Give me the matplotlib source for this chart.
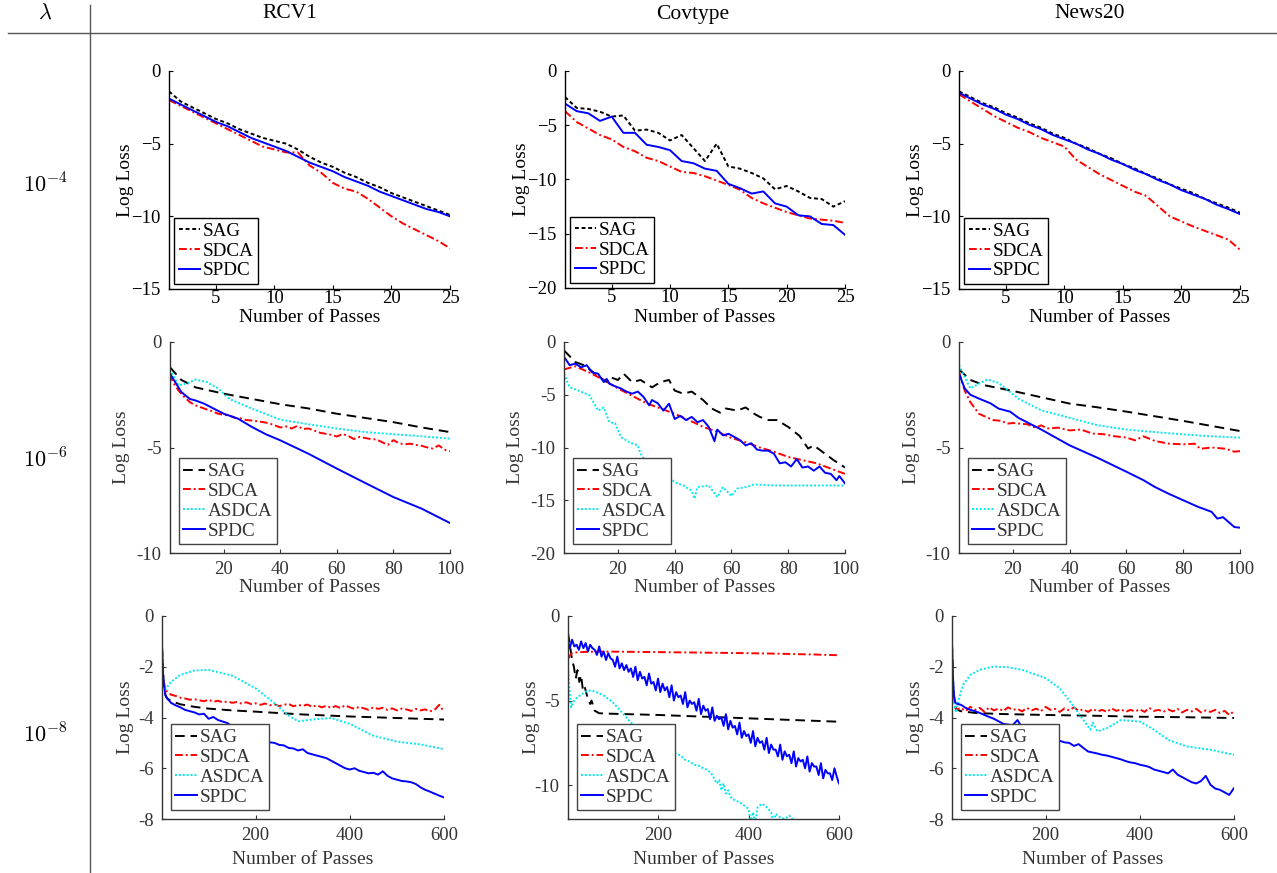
import numpy as np
import matplotlib
matplotlib.use("Agg")
import matplotlib.pyplot as plt
from matplotlib.lines import Line2D

plt.rcParams['font.family'] = ['Liberation Serif', 'DejaVu Serif']
plt.rcParams['mathtext.fontset'] = 'cm'

W, H = 1277, 873

# ---------------- header / categories ----------------
datasets = ["RCV1", "Covtype", "News20"]
lambdas = [r"$10^{-4}$", r"$10^{-6}$", r"$10^{-8}$"]
methods3 = ["SAG", "SDCA", "SPDC"]
methods4 = ["SAG", "SDCA", "ASDCA", "SPDC"]

# ---------------- Row 1 (lambda = 1e-4), passes 1..25 ----------------
r1_x = list(range(1, 26))
r1_rcv_sag = [-1.4, -2.1, -2.5, -2.9, -3.3, -3.6, -4.0, -4.3, -4.6, -4.8, -5.0, -5.4, -5.9,
              -6.3, -6.6, -7.0, -7.3, -7.7, -8.0, -8.4, -8.7, -9.0, -9.3, -9.6, -9.9]
r1_rcv_sdca = [-2.0, -2.4, -2.8, -3.2, -3.6, -4.0, -4.4, -4.8, -5.2, -5.4, -5.6, -5.6, -6.5,
               -7.0, -7.7, -8.1, -8.3, -8.8, -9.4, -10.0, -10.5, -10.9, -11.3, -11.7, -12.2]
r1_rcv_spdc = [-1.9, -2.3, -2.7, -3.1, -3.5, -3.8, -4.2, -4.6, -4.9, -5.2, -5.5, -5.9, -6.3,
               -6.6, -6.9, -7.3, -7.6, -7.9, -8.3, -8.6, -8.9, -9.2, -9.5, -9.7, -10.0]

r1_cov_sag = [-2.4, -3.4, -3.5, -3.75, -4.2, -4.1, -5.5, -5.4, -5.7, -6.4, -5.9, -7.1, -8.3,
              -6.7, -8.8, -9.0, -9.4, -9.9, -10.9, -10.6, -11.1, -11.7, -11.8, -12.5, -12.0]
r1_cov_sdca = [-3.7, -4.7, -5.3, -5.9, -6.3, -7.0, -7.4, -8.0, -8.3, -8.8, -9.3, -9.4, -9.7,
               -10.1, -10.5, -10.95, -11.7, -12.2, -12.6, -13.0, -13.3, -13.6, -13.7, -13.8, -14.0]
r1_cov_spdc = [-3.0, -3.7, -3.9, -4.6, -4.2, -5.7, -5.7, -6.8, -7.0, -7.3, -8.3, -8.5, -9.0,
               -9.2, -10.4, -10.8, -11.3, -11.1, -12.2, -12.5, -13.3, -13.4, -14.1, -14.2, -15.1]

r1_news_sag = [-1.4, -1.8, -2.2, -2.5, -2.9, -3.2, -3.6, -3.9, -4.3, -4.6, -5.0, -5.3, -5.7,
               -6.0, -6.4, -6.7, -7.1, -7.4, -7.8, -8.1, -8.4, -8.8, -9.1, -9.4, -9.75]
r1_news_sdca = [-1.6, -2.1, -2.6, -3.1, -3.5, -3.9, -4.2, -4.6, -4.9, -5.2, -6.1, -6.6, -7.1,
                -7.5, -7.9, -8.3, -8.6, -9.3, -10.0, -10.35, -10.7, -11.0, -11.3, -11.6, -12.3]
r1_news_spdc = [-1.5, -1.9, -2.3, -2.6, -3.0, -3.3, -3.7, -4.0, -4.4, -4.7, -5.0, -5.4, -5.7,
                -6.1, -6.4, -6.8, -7.1, -7.5, -7.8, -8.2, -8.5, -8.8, -9.2, -9.5, -9.85]

# ---------------- Row 2 (lambda = 1e-6), passes 1..100 ----------------
r2_rcv_sag_x = [1, 3, 5, 8, 10, 15, 20, 30, 40, 50, 60, 70, 80, 90, 100]
r2_rcv_sag = [-1.2, -1.5, -1.8, -2.0, -2.15, -2.3, -2.45, -2.7, -2.95, -3.15, -3.4, -3.6, -3.8, -4.05, -4.27]
r2_rcv_sdca_x = [1] + list(range(2, 101, 2))
r2_rcv_sdca = [-1.5, -1.9, -2.3, -2.6, -2.85, -3.0, -3.1, -3.2, -3.28, -3.4, -3.45, -3.48, -3.6,
               -3.62, -3.7, -3.72, -3.76, -3.8, -3.85, -3.95, -4.05, -4.0, -4.1, -3.98, -4.12,
               -4.1, -4.2, -4.3, -4.35, -4.4, -4.48, -4.36, -4.45, -4.6, -4.5, -4.55, -4.6,
               -4.62, -4.75, -4.88, -4.65, -4.8, -4.85, -4.82, -4.88, -4.92, -5.0, -5.05, -4.9,
               -5.1, -5.18]
r2_rcv_asdca_x = [1, 4, 7, 10, 14, 18, 22, 30, 40, 50, 60, 70, 80, 90, 100]
r2_rcv_asdca = [-1.3, -2.05, -1.97, -1.78, -1.9, -2.2, -2.7, -3.16, -3.68, -3.9, -4.1, -4.27, -4.37, -4.47, -4.58]
r2_rcv_spdc_x = [1, 5, 8, 10, 13, 20, 25, 30, 35, 40, 50, 60, 70, 80, 90, 100]
r2_rcv_spdc = [-1.5, -2.37, -2.7, -2.77, -2.92, -3.4, -3.63, -4.03, -4.38, -4.66, -5.3, -6.0, -6.68, -7.35, -7.9, -8.58]

r2_cov_sag_x = [1, 5, 8, 12, 16, 17, 20, 22, 25, 28, 32, 35, 38, 40, 43, 46, 50, 53, 56, 58, 62,
                65, 68, 70, 73, 76, 80, 84, 87, 89, 92, 96, 100]
r2_cov_sag = [-0.8, -1.9, -2.2, -3.0, -3.8, -3.3, -3.6, -3.0, -3.8, -3.6, -4.3, -3.8, -3.6, -4.6,
              -4.9, -4.7, -5.5, -6.3, -6.7, -6.3, -6.5, -6.2, -6.8, -7.1, -7.4, -7.4, -8.05,
              -8.9, -10.1, -9.8, -10.4, -11.2, -11.9]
r2_cov_sdca_x = [1, 5, 10, 15, 20, 25, 30, 35, 40, 45, 50, 55, 60, 65, 70, 75, 80, 85, 90, 95, 100]
r2_cov_sdca = [-2.6, -2.3, -2.9, -3.6, -4.4, -5.1, -5.8, -6.3, -6.8, -7.4, -8.05, -8.5, -9.1,
               -9.5, -10.0, -10.4, -10.9, -11.2, -11.5, -12.0, -12.5]
r2_cov_asdca_x = [1, 3, 6, 10, 13, 15, 17, 19, 21, 24, 27, 28, 30, 33, 36, 40, 43, 46, 47, 48,
                  52, 55, 57, 60, 62, 65, 68, 75, 100]
r2_cov_asdca = [-3.0, -4.3, -4.6, -5.05, -6.5, -6.2, -7.6, -7.7, -9.0, -9.5, -9.8, -10.6, -11.4,
                -11.85, -12.2, -13.3, -13.6, -14.1, -14.85, -13.75, -13.6, -14.7, -13.75,
                -14.6, -13.9, -13.75, -13.5, -13.6, -13.6]
r2_cov_spdc_x = [1, 3, 5, 7, 9, 11, 13, 15, 16, 17, 19, 21, 23, 25, 27, 29, 31, 32, 34, 36, 38,
                 40, 42, 44, 46, 48, 50, 52, 54, 55, 57, 59, 61, 63, 65, 67, 69, 71, 73, 75,
                 77, 79, 81, 83, 85, 87, 89, 91, 93, 95, 97, 98, 100]
r2_cov_spdc = [-1.4, -2.2, -2.05, -2.4, -2.2, -2.9, -3.0, -3.8, -3.5, -3.95, -4.2, -4.4, -4.7,
               -4.9, -4.7, -5.2, -6.0, -5.5, -5.8, -6.5, -5.85, -7.3, -7.0, -7.4, -7.1, -7.6,
               -7.4, -8.05, -9.4, -8.3, -8.85, -8.7, -9.0, -9.3, -9.8, -9.6, -10.2, -10.3,
               -10.3, -10.6, -11.5, -11.4, -11.8, -11.1, -11.9, -11.8, -12.2, -11.8, -12.4,
               -12.5, -13.1, -12.7, -13.4]

r2_news_sag_x = [1, 5, 10, 20, 30, 40, 50, 60, 70, 80, 90, 100]
r2_news_sag = [-1.3, -1.8, -2.05, -2.32, -2.62, -2.92, -3.1, -3.3, -3.52, -3.74, -3.98, -4.22]
r2_news_sdca_x = [1, 3, 5, 8, 10, 13, 16, 18, 20, 25, 28, 30, 32, 36, 40, 44, 48, 52, 56, 60,
                  63, 66, 70, 75, 80, 84, 86, 90, 95, 98, 100]
r2_news_sdca = [-1.4, -2.3, -2.85, -3.4, -3.52, -3.7, -3.74, -3.87, -3.84, -3.9, -4.06, -3.95,
                -4.1, -4.06, -4.19, -4.15, -4.34, -4.37, -4.47, -4.53, -4.66, -4.47, -4.69,
                -4.82, -4.85, -4.82, -5.06, -5.0, -5.06, -5.2, -5.17]
r2_news_asdca_x = [1, 5, 8, 11, 15, 18, 22, 30, 40, 50, 60, 70, 80, 90, 100]
r2_news_asdca = [-1.1, -2.2, -1.97, -1.78, -1.94, -2.26, -2.69, -3.24, -3.59, -3.95, -4.15, -4.27, -4.38, -4.47, -4.53]
r2_news_spdc_x = [1, 3, 5, 8, 12, 15, 19, 22, 30, 40, 50, 60, 66, 70, 75, 80, 85, 90, 92, 94, 98, 100]
r2_news_spdc = [-1.5, -2.2, -2.5, -2.68, -2.9, -3.16, -3.3, -3.6, -4.15, -4.9, -5.5, -6.15, -6.55,
                -6.87, -7.2, -7.5, -7.8, -8.05, -8.37, -8.3, -8.77, -8.8]

# ---------------- Row 3 (lambda = 1e-8), passes 1..600 ----------------
r3_step_x = [1, 3, 5, 8] + list(range(10, 601, 10))

r3_rcv_sag_x = [1, 3, 5, 8, 12, 20, 40, 70, 100, 150, 200, 300, 400, 500, 600]
r3_rcv_sag = [-1.2, -2.3, -2.8, -3.1, -3.25, -3.35, -3.48, -3.58, -3.65, -3.72, -3.77, -3.88, -3.96, -4.02, -4.08]
r3_rcv_sdca = [-1.3, -2.1, -2.6, -2.85, -2.95, -3.1, -3.15, -3.22, -3.25, -3.3, -3.28, -3.32,
               -3.36, -3.3, -3.38, -3.34, -3.4, -3.37, -3.42, -3.39, -3.45, -3.4, -3.47, -3.44,
               -3.5, -3.45, -3.52, -3.48, -3.55, -3.5, -3.46, -3.56, -3.5, -3.54, -3.49, -3.58,
               -3.52, -3.6, -3.54, -3.62, -3.55, -3.63, -3.52, -3.6, -3.66, -3.58, -3.64, -3.7,
               -3.6, -3.66, -3.62, -3.7, -3.64, -3.72, -3.65, -3.68, -3.74, -3.66, -3.72, -3.68,
               -3.76, -3.7, -3.5, -3.78]
r3_rcv_asdca_x = [1, 3, 5, 8, 12, 20, 40, 70, 100, 150, 200, 240, 270, 290, 320, 360, 400, 450, 500, 550, 600]
r3_rcv_asdca = [-1.2, -2.2, -2.7, -2.9, -2.8, -2.6, -2.32, -2.15, -2.12, -2.35, -2.85, -3.44,
                -3.92, -4.15, -4.08, -4.02, -4.25, -4.72, -4.95, -5.06, -5.25]
r3_rcv_spdc = [-1.2, -2.2, -2.7, -3.1, -3.2, -3.42, -3.52, -3.6, -3.7, -3.75, -3.8, -3.88, -3.85,
               -4.05, -3.98, -4.1, -4.16, -4.22, -4.35, -4.4, -4.45, -4.55, -4.68, -4.75, -4.82,
               -4.9, -4.98, -5.0, -5.08, -5.1, -5.2, -5.22, -5.3, -5.25, -5.4, -5.45, -5.5,
               -5.55, -5.6, -5.7, -5.8, -5.9, -6.0, -6.05, -6.0, -6.1, -6.15, -6.2, -6.18,
               -6.25, -6.12, -6.3, -6.4, -6.45, -6.5, -6.52, -6.55, -6.62, -6.75, -6.85, -6.92,
               -7.0, -7.08, -7.15]

r3_cov_sag_x = [1, 4, 10, 14, 18, 22, 26, 30, 34, 38, 44, 50, 53, 60, 70, 100, 200, 300, 400, 500, 600]
r3_cov_sag = [-1.0, -1.5, -2.6, -3.0, -3.7, -3.2, -3.9, -3.5, -4.4, -4.2, -4.8, -5.2, -5.0, -5.6,
              -5.75, -5.78, -5.85, -5.95, -6.05, -6.15, -6.25]
r3_cov_sdca_x = [1, 3, 6, 10, 20, 40, 80, 150, 250, 350, 450, 550, 600]
r3_cov_sdca = [-2.55, -2.45, -2.3, -2.2, -2.15, -2.12, -2.1, -2.12, -2.15, -2.18, -2.22, -2.28, -2.32]
r3_cov_asdca_x = [1, 3, 5, 8, 12, 20, 30, 45, 60, 80, 100, 120, 140, 160, 180, 200, 210, 220,
                  230, 240, 250, 260, 270, 280, 290, 300, 310, 320, 330, 335, 340, 345, 350,
                  355, 360, 370, 380, 390, 400, 405, 410, 415, 420, 430, 440, 450, 455, 460,
                  470, 480, 490, 500, 510]
r3_cov_asdca = [-3.0, -3.8, -4.6, -5.4, -5.1, -4.85, -4.65, -4.4, -4.45, -4.7, -5.1, -5.7, -6.3,
                -6.8, -7.3, -7.7, -7.9, -7.95, -8.1, -8.15, -8.25, -8.5, -8.6, -8.8, -8.85,
                -9.0, -9.1, -9.4, -9.9, -9.7, -10.3, -9.9, -10.5, -10.3, -10.7, -10.9, -11.0,
                -11.2, -11.4, -12.2, -11.6, -12.3, -11.3, -11.1, -11.3, -11.6, -12.2, -11.7,
                -11.9, -12.0, -11.8, -12.1, -12.5]
r3_cov_spdc_x = [1] + list(range(5, 601, 5))
r3_cov_spdc = [-1.5, -1.9, -1.4, -1.8, -1.7, -2.0, -1.5, -1.9, -1.6, -2.1, -1.7, -1.9, -2.0,
               -2.3, -1.8, -2.4, -2.1, -2.6, -2.2, -2.5, -2.6, -3.0, -2.4, -3.1, -2.8, -3.2,
               -2.9, -3.3, -3.1, -3.6, -3.0, -3.8, -3.3, -3.7, -3.6, -4.1, -3.4, -4.0, -3.9,
               -4.4, -3.7, -4.5, -4.0, -4.4, -4.2, -4.8, -4.1, -5.0, -4.5, -4.8, -4.7, -5.2,
               -4.5, -5.4, -5.0, -5.2, -5.1, -5.6, -4.9, -5.8, -5.3, -5.6, -5.5, -6.1, -5.4,
               -6.2, -5.9, -6.1, -6.0, -6.5, -5.8, -6.7, -6.2, -6.6, -6.5, -7.0, -6.3, -7.2,
               -6.8, -7.1, -7.0, -7.5, -6.8, -7.7, -7.2, -7.5, -7.4, -7.9, -7.2, -8.1, -7.6,
               -7.9, -7.9, -8.3, -7.6, -8.5, -8.0, -8.3, -8.2, -8.7, -8.0, -8.9, -8.4, -8.6,
               -8.5, -9.0, -8.3, -9.2, -8.7, -8.9, -8.9, -9.4, -8.7, -9.6, -9.1, -9.3, -9.3,
               -9.7, -9.0, -9.5, -9.9]

r3_news_sag_x = [1, 3, 5, 8, 12, 20, 50, 100, 200, 300, 400, 500, 600]
r3_news_sag = [-1.1, -2.5, -3.3, -3.6, -3.7, -3.75, -3.82, -3.86, -3.9, -3.93, -3.97, -3.99, -4.02]
r3_news_sdca = [-1.1, -2.5, -3.3, -3.6, -3.7, -3.62, -3.75, -3.58, -3.7, -3.62, -3.78, -3.6,
                -3.72, -3.65, -3.74, -3.6, -3.7, -3.66, -3.76, -3.62, -3.72, -3.65, -3.75,
                -3.58, -3.7, -3.66, -3.78, -3.64, -3.72, -3.6, -3.74, -3.68, -3.78, -3.66,
                -3.76, -3.7, -3.78, -3.64, -3.74, -3.68, -3.78, -3.7, -3.76, -3.68, -3.78,
                -3.62, -3.74, -3.7, -3.78, -3.68, -3.76, -3.66, -3.8, -3.7, -3.76, -3.66,
                -3.8, -3.72, -3.78, -3.7, -3.82, -3.74, -3.9, -3.75]
r3_news_asdca_x = [1, 3, 5, 8, 10, 15, 25, 40, 60, 90, 120, 150, 200, 230, 260, 280, 295, 300,
                   310, 330, 360, 400, 430, 460, 500, 550, 600]
r3_news_asdca = [-1.1, -2.4, -3.2, -3.7, -3.8, -3.3, -2.7, -2.32, -2.12, -1.99, -2.02, -2.12,
                 -2.45, -2.85, -3.57, -4.1, -4.48, -4.2, -4.55, -4.42, -4.1, -4.16, -4.48,
                 -4.88, -5.14, -5.27, -5.47]
r3_news_spdc = [-1.2, -2.4, -3.1, -3.4, -3.45, -3.5, -3.62, -3.7, -3.75, -3.82, -3.9, -3.98,
                -4.05, -4.15, -4.25, -4.28, -4.3, -4.1, -4.4, -4.5, -4.55, -4.62, -4.7, -4.75,
                -4.85, -4.88, -4.92, -4.98, -5.0, -5.12, -5.05, -5.2, -5.34, -5.38, -5.42,
                -5.47, -5.5, -5.55, -5.6, -5.65, -5.72, -5.77, -5.8, -5.86, -5.9, -5.95, -6.05,
                -6.1, -6.15, -6.2, -6.05, -6.25, -6.35, -6.45, -6.55, -6.6, -6.5, -6.3, -6.65,
                -6.8, -6.85, -6.95, -7.05, -6.78]

# ---------------- axis ticks ----------------
r1_xticks = [5, 10, 15, 20, 25]
r2_xticks = [20, 40, 60, 80, 100]
r3_xticks = [200, 400, 600]
yt_15 = [0, -5, -10, -15]
yt_20 = [0, -5, -10, -15, -20]
yt_10 = [0, -5, -10]
yt_8 = [0, -2, -4, -6, -8]
yt_12 = [0, -5, -10]

# ---------------- styles ----------------
COL = {"SAG": "black", "SDCA": "#ff0000", "ASDCA": "#00e8f0", "SPDC": "#0000ff"}
LS1 = {"SAG": (0, (2.0, 1.4)), "SDCA": (0, (4, 1.5, 1, 1.5)), "SPDC": "-"}
LS2 = {"SAG": (0, (5, 3)), "SDCA": (0, (4, 1.5, 1, 1.5)), "ASDCA": (0, (1, 1)), "SPDC": "-"}

fig = plt.figure(figsize=(W / 100, H / 100), dpi=100)


def add_ax(l, t, r, b):
    return fig.add_axes([l / W, 1 - b / H, (r - l) / W, (b - t) / H])


panels = [
    (0, (169, 71, 450, 289), (1, 25), (-15, 0), r1_xticks, yt_15,
     [(r1_x, r1_rcv_sag, "SAG"), (r1_x, r1_rcv_sdca, "SDCA"), (r1_x, r1_rcv_spdc, "SPDC")]),
    (0, (565, 71, 845, 288), (1, 25), (-20, 0), r1_xticks, yt_20,
     [(r1_x, r1_cov_sag, "SAG"), (r1_x, r1_cov_sdca, "SDCA"), (r1_x, r1_cov_spdc, "SPDC")]),
    (0, (959, 71, 1240, 289), (1, 25), (-15, 0), r1_xticks, yt_15,
     [(r1_x, r1_news_sag, "SAG"), (r1_x, r1_news_sdca, "SDCA"), (r1_x, r1_news_spdc, "SPDC")]),
    (1, (170, 342, 450, 553), (1, 100), (-10, 0), r2_xticks, yt_10,
     [(r2_rcv_sag_x, r2_rcv_sag, "SAG"), (r2_rcv_sdca_x, r2_rcv_sdca, "SDCA"),
      (r2_rcv_asdca_x, r2_rcv_asdca, "ASDCA"), (r2_rcv_spdc_x, r2_rcv_spdc, "SPDC")]),
    (1, (564, 342, 845, 553), (1, 100), (-20, 0), r2_xticks, yt_20,
     [(r2_cov_sag_x, r2_cov_sag, "SAG"), (r2_cov_sdca_x, r2_cov_sdca, "SDCA"),
      (r2_cov_asdca_x, r2_cov_asdca, "ASDCA"), (r2_cov_spdc_x, r2_cov_spdc, "SPDC")]),
    (1, (959, 342, 1240, 553), (1, 100), (-10, 0), r2_xticks, yt_10,
     [(r2_news_sag_x, r2_news_sag, "SAG"), (r2_news_sdca_x, r2_news_sdca, "SDCA"),
      (r2_news_asdca_x, r2_news_asdca, "ASDCA"), (r2_news_spdc_x, r2_news_spdc, "SPDC")]),
    (2, (162, 616, 444, 819), (1, 600), (-8, 0), r3_xticks, yt_8,
     [(r3_rcv_sag_x, r3_rcv_sag, "SAG"), (r3_step_x, r3_rcv_sdca, "SDCA"),
      (r3_rcv_asdca_x, r3_rcv_asdca, "ASDCA"), (r3_step_x, r3_rcv_spdc, "SPDC")]),
    (2, (568, 616, 839, 819), (1, 600), (-12, 0), r3_xticks, yt_12,
     [(r3_cov_sag_x, r3_cov_sag, "SAG"), (r3_cov_sdca_x, r3_cov_sdca, "SDCA"),
      (r3_cov_asdca_x, r3_cov_asdca, "ASDCA"), (r3_cov_spdc_x, r3_cov_spdc, "SPDC")]),
    (2, (952, 616, 1234, 819), (1, 600), (-8, 0), r3_xticks, yt_8,
     [(r3_news_sag_x, r3_news_sag, "SAG"), (r3_step_x, r3_news_sdca, "SDCA"),
      (r3_news_asdca_x, r3_news_asdca, "ASDCA"), (r3_step_x, r3_news_spdc, "SPDC")]),
]

FS = 13.5
for row, box, xlim, ylim, xt, yt, series in panels:
    l, t, r, b = box
    ax = add_ax(l, t, r, b)
    w_px, h_px = r - l, b - t
    tc = "black" if row == 0 else "#333333"
    ls = LS1 if row == 0 else LS2
    for xs, ys, name in series:
        ax.plot(xs, ys, color=COL[name], linestyle=ls[name], lw=1.4, label=name, clip_on=True)
    ax.set_xlim(*xlim)
    ax.set_ylim(*ylim)
    ax.set_xticks(xt)
    ax.set_yticks(yt)
    if row == 0:
        ax.set_yticklabels(["0" if v == 0 else "\u2212" + str(-v) for v in yt])
    else:
        ax.set_yticklabels([str(v) for v in yt])
    for s in ["top", "right"]:
        ax.spines[s].set_visible(False)
    for s in ["left", "bottom"]:
        ax.spines[s].set_color(tc)
        ax.spines[s].set_linewidth(1.0)
    xpad = 0.5 if row == 0 else 6
    ax.tick_params(axis="x", direction="in", length=3, labelsize=FS, colors=tc, pad=xpad)
    ax.tick_params(axis="y", direction="in", length=3, labelsize=FS, colors=tc, pad=6)
    ax.set_facecolor("none")
    xoff = {0: 29, 1: 34, 2: 41}[row]
    yoff = {0: 44, 1: 48, 2: 37}[row]
    ax.set_xlabel("Number of Passes", fontsize=FS + 0.5, color=tc)
    ax.xaxis.set_label_coords(0.5, -xoff / h_px)
    ax.xaxis.label.set_va("center")
    ax.set_ylabel("Log Loss", fontsize=FS + 0.5, color=tc)
    ax.yaxis.set_label_coords(-yoff / w_px, 0.5)
    ax.yaxis.label.set_va("center")
    leg = ax.legend(loc="lower left", fontsize=FS + 0.3, frameon=True, fancybox=False,
                    handlelength=1.1, handletextpad=0.15, labelspacing=0.12,
                    borderpad=0.25, borderaxespad=0.25 if row == 0 else 0.45)
    leg.get_frame().set_edgecolor("black" if row == 0 else "#444444")
    leg.get_frame().set_linewidth(1.0)
    leg.get_frame().set_alpha(1.0)
    for txt in leg.get_texts():
        txt.set_color(tc)

# header texts
fig.text(45 / W, 1 - 14 / H, r"$\lambda$", fontsize=16, ha="center", va="center")
for name, cx in zip(datasets, [290, 693, 1090]):
    fig.text(cx / W, 1 - 14 / H, name, fontsize=15.5, ha="center", va="center")
for lab, cy in zip(lambdas, [185, 460, 735]):
    fig.text(45 / W, 1 - cy / H, lab, fontsize=16, ha="center", va="center")

fig.add_artist(Line2D([8 / W, 1.0], [1 - 33 / H, 1 - 33 / H], color="#555555", lw=1.0))
fig.add_artist(Line2D([90 / W, 90 / W], [0.0, 1 - 5 / H], color="#555555", lw=1.0))

fig.savefig("out.png", dpi=100)
